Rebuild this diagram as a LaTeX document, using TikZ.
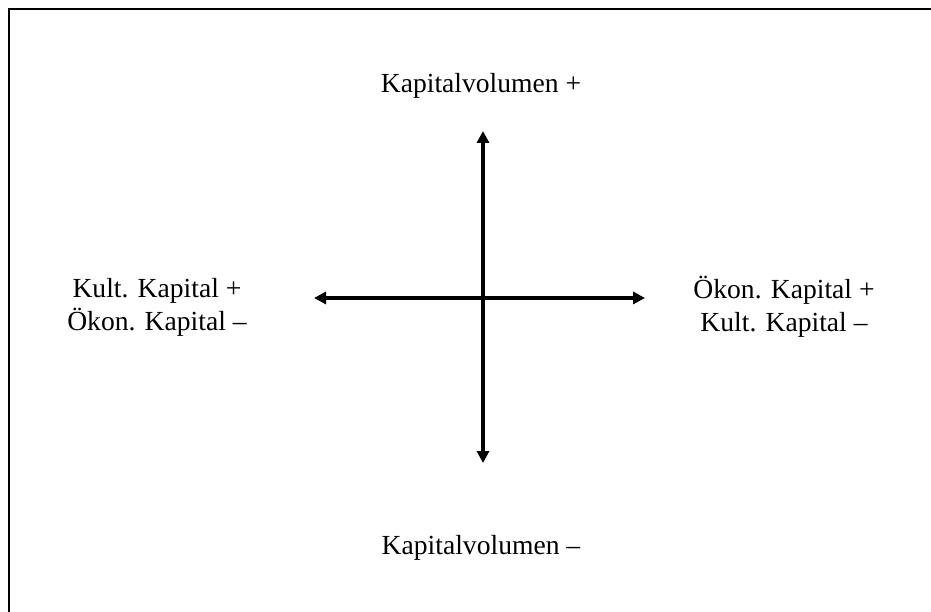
\documentclass[tikz,border=0pt]{standalone}
\usepackage{fontspec}
\setmainfont{Liberation Serif}
\usetikzlibrary{arrows.meta}
\tikzset{
  axis/.style={line width=3.2pt, {Triangle[length=12pt,width=12pt]}-{Triangle[length=12pt,width=12pt]}},
  frame/.style={line width=2.6pt, black},
  lbl/.style={align=center, inner sep=0pt, font=\fontsize{27.6}{33}\selectfont}
}
\begin{document}
\begin{tikzpicture}[x=1pt,y=-1pt]
\useasboundingbox (0,0) rectangle (931,612);
\coordinate (fbl) at (9,612);
\coordinate (ftl) at (9,9);
\coordinate (ftr) at (931,9);
\draw[frame] (fbl) -- (ftl) -- (ftr);
\coordinate (up) at (483,131);
\coordinate (down) at (483,463);
\coordinate (left) at (314,298);
\coordinate (right) at (645,298);
\draw[axis] (down) -- (up);
\draw[axis] (left) -- (right);
\node[lbl] (top) at (481,86) {Kapitalvolumen +};
\node[lbl] (bottom) at (481,548) {Kapitalvolumen –};
\node[lbl] (west) at (157,307) {Kult. Kapital +\\Ökon. Kapital –};
\node[lbl] (east) at (784,307) {Ökon. Kapital +\\Kult. Kapital –};
\end{tikzpicture}
\end{document}
